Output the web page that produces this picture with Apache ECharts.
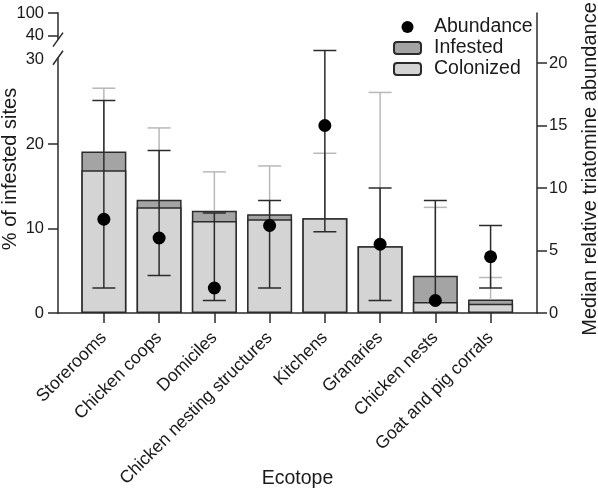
<!DOCTYPE html>
<html><head><meta charset="utf-8">
<script src="https://cdn.jsdelivr.net/npm/echarts@6/dist/echarts.min.js"></script>
<style>html,body{margin:0;padding:0;background:#fff}#c{width:598px;height:489px}</style>
</head><body><div id="c"></div>
<script>
const categories = ['Storerooms','Chicken coops','Domiciles','Chicken nesting structures','Kitchens','Granaries','Chicken nests','Goat and pig corrals'];
const infested = [19.1, 13.4, 12.1, 11.7, 11.2, 7.9, 4.4, 1.6];
const colonized = [16.9, 12.5, 10.9, 11.1, 11.2, 7.9, 1.3, 1.1];
const infestedUpper = [26.6, 21.9, 16.7, 17.4, 18.9, 26.1, 12.5, 4.2];
const abundance = [7.5, 6, 2, 7, 15, 5.5, 1, 4.5];
const abundanceLow = [2, 3, 1, 2, 6.5, 1, 1, 2];
const abundanceHigh = [17, 13, 8, 9, 21, 10, 9, 7];
const leftTickLabels = [0, 10, 20, 30, 40, 100];
const rightTickLabels = [0, 5, 10, 15, 20];

// broken left axis: 0-30 linear, 40-100 compressed at the top
const lowerMax = 30, upperMin = 40, upperMax = 100;
const upperStart = 32.8, axisTop = 35.5;
const breakLow = 30.2, breakHigh = 32.35;
function toAxis(v){ return v <= lowerMax ? v : upperStart + (v - upperMin) * (axisTop - upperStart) / (upperMax - upperMin); }
const leftPos = leftTickLabels.map(toAxis);
const leftTickPos = leftTickLabels.filter(v => v !== 30).map(toAxis);
const xMin = -0.83, xMax = 7.84;
const idx = categories.map((c, i) => i);

const FONT = 'Liberation Sans, Arial, sans-serif';
const TXT = '#1a1a1a';
const AX = '#2b2b2b';

const chart = echarts.init(document.getElementById('c'), null, {renderer: 'canvas'});
chart.setOption({
  animation: false,
  backgroundColor: '#fff',
  textStyle: {fontFamily: FONT, color: TXT},
  grid: {left: 58, right: 61, top: 13, bottom: 176, containLabel: false, outerBoundsMode: 'none'},
  legend: {
    data: ['Abundance', 'Infested', 'Colonized'],
    orient: 'vertical', left: 393, top: 17, padding: 0,
    itemWidth: 27, itemHeight: 12, itemGap: 1,
    textStyle: {fontFamily: FONT, fontSize: 19.5, color: TXT, padding: [0, 0, 0, 8], lineHeight: 20},
    selectedMode: false
  },
  xAxis: {
    type: 'value', min: xMin, max: xMax,
    name: 'Ecotope', nameLocation: 'middle', nameGap: 156, nameMoveOverlap: false,
    nameTextStyle: {fontFamily: FONT, fontSize: 19.5, color: TXT},
    axisLine: {show: true, onZero: false, lineStyle: {color: AX, width: 1.5}},
    axisTick: {show: true, length: 10, customValues: idx, lineStyle: {color: AX, width: 1.5}},
    axisLabel: {customValues: idx, rotate: 45, margin: 22, fontSize: 17.6, color: TXT, fontFamily: FONT,
      formatter: v => categories[Math.round(v)]},
    splitLine: {show: false}
  },
  yAxis: [{
    type: 'value', min: 0, max: axisTop, position: 'left',
    name: '% of infested sites', nameLocation: 'middle', nameGap: 38, nameMoveOverlap: false,
    nameTextStyle: {fontFamily: FONT, fontSize: 20, color: TXT, padding: [0, 12, 0, 0]},
    axisLine: {show: false, onZero: false},
    axisTick: {show: true, length: 10, customValues: leftTickPos, lineStyle: {color: AX, width: 1.5}},
    axisLabel: {customValues: leftPos, margin: 14, fontSize: 16.5, color: TXT, fontFamily: FONT,
      formatter: v => { const k = leftPos.findIndex(p => Math.abs(p - v) < 1e-6); return k >= 0 ? String(leftTickLabels[k]) : ''; }},
    splitLine: {show: false}
  }, {
    type: 'value', min: 0, max: 24, position: 'right',
    name: 'Median relative triatomine abundance', nameLocation: 'middle', nameGap: 43, nameMoveOverlap: false,
    nameTextStyle: {fontFamily: FONT, fontSize: 20, color: TXT, padding: [0, 12, 0, 0]},
    axisLine: {show: true, onZero: false, lineStyle: {color: AX, width: 1.5}},
    axisTick: {show: true, length: 10, customValues: rightTickLabels, lineStyle: {color: AX, width: 1.5}},
    axisLabel: {customValues: rightTickLabels, margin: 12, fontSize: 16.5, color: TXT, fontFamily: FONT},
    splitLine: {show: false}
  }],
  series: [
    {
      name: 'Infested', type: 'bar', xAxisIndex: 0, yAxisIndex: 0, barWidth: 45, barGap: '-100%', z: 2,
      itemStyle: {color: '#a4a4a4', borderColor: AX, borderWidth: 1.5},
      data: idx.map(i => [i, infested[i]])
    },
    {
      name: 'Colonized', type: 'bar', xAxisIndex: 0, yAxisIndex: 0, barWidth: 45, barGap: '-100%', z: 2,
      itemStyle: {color: '#d4d4d4', borderColor: AX, borderWidth: 1.5},
      data: idx.map(i => [i, colonized[i]])
    },
    {
      type: 'custom', name: 'infestedCI', xAxisIndex: 0, yAxisIndex: 0, z: 3, silent: true,
      encode: {x: 0, y: [1, 2]},
      data: idx.map(i => [i, infested[i], infestedUpper[i]]),
      renderItem(params, api){
        const lo = api.coord([api.value(0), api.value(1)]);
        const hi = api.coord([api.value(0), api.value(2)]);
        const st = {stroke: '#b8b8b8', lineWidth: 1.5};
        return {type: 'group', children: [
          {type: 'line', shape: {x1: lo[0], y1: lo[1], x2: hi[0], y2: hi[1]}, style: st},
          {type: 'line', shape: {x1: hi[0] - 11.5, y1: hi[1], x2: hi[0] + 11.5, y2: hi[1]}, style: st}
        ]};
      }
    },
    {
      type: 'custom', name: 'abundanceRange', xAxisIndex: 0, yAxisIndex: 1, z: 4, silent: true,
      encode: {x: 0, y: [1, 2]},
      data: idx.map(i => [i, abundanceLow[i], abundanceHigh[i], abundance[i]]),
      renderItem(params, api){
        const lo = api.coord([api.value(0), api.value(1)]);
        const hi = api.coord([api.value(0), api.value(2)]);
        const st = {stroke: AX, lineWidth: 1.5};
        const ch = [
          {type: 'line', shape: {x1: lo[0], y1: lo[1], x2: hi[0], y2: hi[1]}, style: st},
          {type: 'line', shape: {x1: hi[0] - 11.5, y1: hi[1], x2: hi[0] + 11.5, y2: hi[1]}, style: st}
        ];
        if (api.value(1) < api.value(3)) {
          ch.push({type: 'line', shape: {x1: lo[0] - 11.5, y1: lo[1], x2: lo[0] + 11.5, y2: lo[1]}, style: st});
        }
        return {type: 'group', children: ch};
      }
    },
    {
      name: 'Abundance', type: 'scatter', xAxisIndex: 0, yAxisIndex: 1, z: 5,
      symbol: 'circle', symbolSize: 13, itemStyle: {color: '#000', opacity: 1},
      data: idx.map(i => [i, abundance[i]])
    },
    {
      type: 'custom', name: 'leftAxisLine', xAxisIndex: 0, yAxisIndex: 0, z: 6, silent: true, clip: false,
      data: [[xMin, 0]],
      renderItem(params, api){
        const p = v => api.coord([xMin, v]);
        const a = p(0), b = p(breakLow), c = p(breakHigh), d = p(axisTop);
        const st = {stroke: AX, lineWidth: 1.5};
        return {type: 'group', children: [
          {type: 'line', shape: {x1: a[0], y1: a[1] + 0.75, x2: b[0], y2: b[1]}, style: st},
          {type: 'line', shape: {x1: c[0], y1: c[1], x2: d[0], y2: d[1] - 0.75}, style: st},
          {type: 'line', shape: {x1: b[0] - 5, y1: b[1] + 7, x2: b[0] + 5, y2: b[1] - 7}, style: st},
          {type: 'line', shape: {x1: c[0] - 5, y1: c[1] + 7, x2: c[0] + 5, y2: c[1] - 7}, style: st}
        ]};
      }
    }
  ]
});
</script>
</body></html>
